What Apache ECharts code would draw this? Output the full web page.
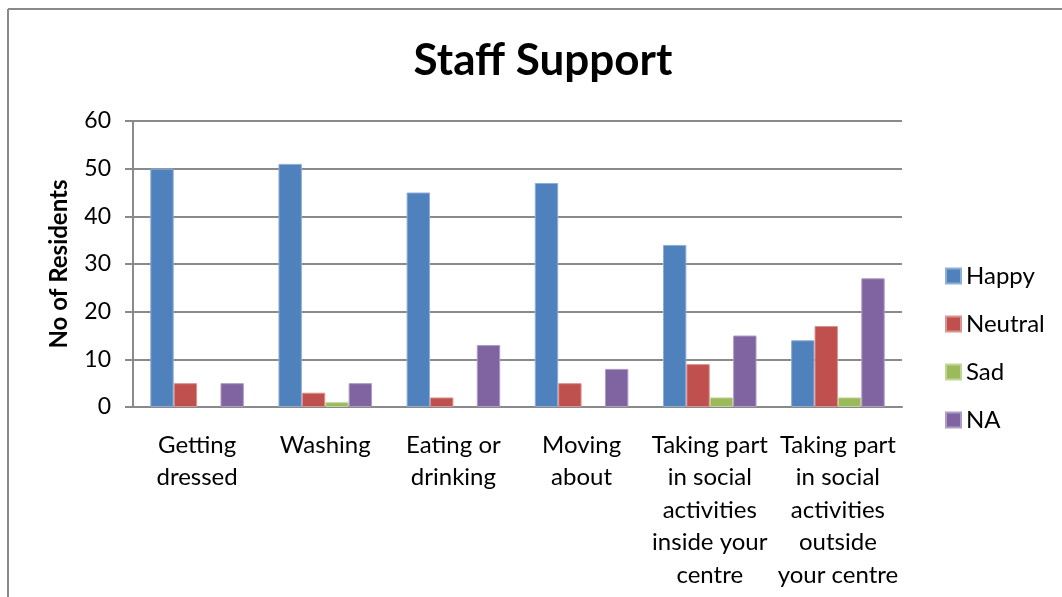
<!DOCTYPE html>
<html>
<head>
<meta charset="utf-8">
<script src="https://cdn.jsdelivr.net/npm/echarts@6/dist/echarts.min.js"></script>
<style>
  html, body { margin: 0; padding: 0; background: #fff; }
  #chart { width: 1062px; height: 597px; }
</style>
</head>
<body>
<div id="chart"></div>
<script>
// Categories and counts per response
const categories = [
  'Getting\ndressed',
  'Washing',
  'Eating or\ndrinking',
  'Moving\nabout',
  'Taking part\nin social\nactivities\ninside your\ncentre',
  'Taking part\nin social\nactivities\noutside\nyour centre'
];
const happy   = [50, 51, 45, 47, 34, 14];
const neutral = [5, 3, 2, 5, 9, 17];
const sad     = [0, 1, 0, 0, 2, 2];
const na      = [5, 5, 13, 8, 15, 27];
const yTicks  = [0, 10, 20, 30, 40, 50, 60];

const FONT = 'Lato, "Open Sans", sans-serif';
const colors = ['#4F81BD', '#C0504D', '#9BBB59', '#8064A2'];
const borders = ['#8FADD5', '#D99492', '#C0D59A', '#AE9CC4'];

function bar(name, data, i) {
  return {
    name, type: 'bar',
    // empty bars get no outline so nothing shows on the baseline
    data: data.map(v => v === 0 ? { value: v, itemStyle: { borderWidth: 0 } } : v),
    barGap: '0%', barCategoryGap: '27%',
    itemStyle: { color: colors[i], borderColor: borders[i], borderWidth: 1 }
  };
}

const chart = echarts.init(document.getElementById('chart'), null, { renderer: 'canvas' });
chart.setOption({
  animation: false,
  backgroundColor: '#fff',
  title: {
    text: 'Staff Support', left: 538, top: 34, textAlign: 'center',
    textStyle: { fontFamily: FONT, fontSize: 44, fontWeight: 'bold', color: '#000' }
  },
  graphic: [
    { type: 'line', shape: { x1: 8, y1: 9, x2: 1062, y2: 9 }, style: { stroke: '#8a8a8a', lineWidth: 2 } },
    { type: 'line', shape: { x1: 8, y1: 9, x2: 8, y2: 597 }, style: { stroke: '#8a8a8a', lineWidth: 2 } }
  ],
  legend: {
    orient: 'vertical', left: 945, top: 264, padding: 0,
    itemWidth: 15, itemHeight: 15, itemGap: 24,
    icon: 'rect',
    textStyle: { fontFamily: FONT, fontSize: 24, color: '#000' },
    data: ['Happy', 'Neutral', 'Sad', 'NA']
  },
  grid: { left: 133, right: 160, top: 121, bottom: 190, containLabel: false },
  xAxis: {
    type: 'category', data: categories,
    axisLine: { lineStyle: { color: '#8a8a8a', width: 2 } },
    axisTick: { show: false },
    axisLabel: {
      interval: 0, margin: 22, fontFamily: FONT, fontSize: 24, color: '#000',
      lineHeight: 32.5
    }
  },
  yAxis: {
    type: 'value', min: yTicks[0], max: yTicks[yTicks.length - 1], interval: 10,
    name: 'No of Residents', nameLocation: 'middle', nameGap: 62,
    nameTextStyle: { fontFamily: FONT, fontSize: 24, fontWeight: 'bold', color: '#000' },
    axisLine: { show: true, lineStyle: { color: '#8a8a8a', width: 2 } },
    axisTick: { show: true, length: 8, lineStyle: { color: '#8a8a8a', width: 2 } },
    axisLabel: { margin: 22, fontFamily: FONT, fontSize: 23, color: '#000' },
    splitLine: { lineStyle: { color: '#8a8a8a', width: 2 } }
  },
  series: [
    bar('Happy', happy, 0),
    bar('Neutral', neutral, 1),
    bar('Sad', sad, 2),
    bar('NA', na, 3)
  ]
});
</script>
</body>
</html>
